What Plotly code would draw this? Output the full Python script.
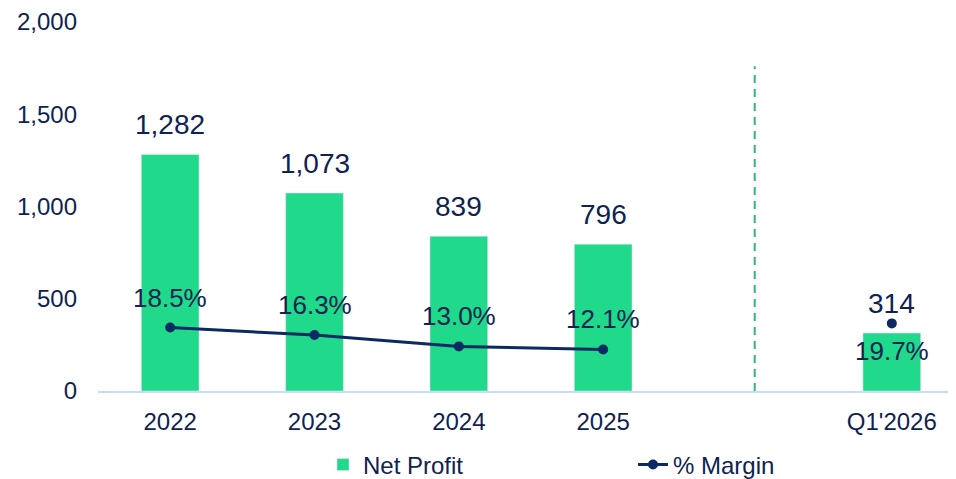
import plotly.graph_objects as go

periods = ["2022", "2023", "2024", "2025", " ", "Q1'2026"]
net_profit = [1282, 1073, 839, 796, None, 314]
margin_pct = [18.5, 16.3, 13.0, 12.1, None, 19.7]
profit_labels = ["1,282", "1,073", "839", "796", "", "314"]
margin_labels = ["18.5%", "16.3%", "13.0%", "12.1%", "", "19.7%"]
y_ticks = [0, 500, 1000, 1500, 2000]

bar_color = "#20d98b"
navy = "#0b2a63"
text_color = "#0f2352"
font_family = "Arial, Liberation Sans, sans-serif"

fig = go.Figure()

fig.add_trace(go.Bar(
    x=periods,
    y=net_profit,
    name="Net Profit",
    marker_color=bar_color,
    width=0.4,
))

# margin line: the first four years are connected, Q1 stands alone
fig.add_trace(go.Scatter(
    x=periods,
    y=margin_pct,
    name="% Margin",
    mode="lines+markers",
    yaxis="y2",
    connectgaps=False,
    line=dict(color=navy, width=3),
    marker=dict(size=10, color=navy),
))

# annotations on a category axis: use the index, "2022" would be read as position 2022
annotations = []
for i, (v, lab) in enumerate(zip(net_profit, profit_labels)):
    if v is None:
        continue
    annotations.append(dict(x=i, y=v, text=lab, showarrow=False, yshift=30,
                            font=dict(size=28, color=text_color)))
for i, (m, lab) in enumerate(zip(margin_pct, margin_labels)):
    if m is None:
        continue
    # the last one sits below its marker so it does not collide with the bar label
    shift = -28 if i == len(periods) - 1 else 30
    annotations.append(dict(x=i, y=m, yref="y2", text=lab, showarrow=False, yshift=shift,
                            font=dict(size=26, color=text_color)))

fig.update_layout(
    width=956,
    height=479,
    # page body adds 8px on the left/top, so margins are trimmed by that much
    margin=dict(l=90, r=0, t=14, b=96),
    plot_bgcolor="white",
    paper_bgcolor="white",
    font=dict(family=font_family, color=text_color, size=24),
    showlegend=True,
    xaxis=dict(
        type="category",
        categoryorder="array",
        categoryarray=periods,
        range=[-0.5, 5.5],
        automargin=False,
        showline=True,
        linecolor="#c6dcf7",
        linewidth=2,
        showgrid=False,
        ticks="",
        ticklabelstandoff=8,
        tickfont=dict(size=24, color=text_color),
    ),
    yaxis=dict(
        range=[0, 2000],
        tickvals=y_ticks,
        tickformat=",d",
        automargin=False,
        ticklabeloverflow="allow",
        showgrid=False,
        zeroline=False,
        showline=False,
        ticks="",
        ticklabelstandoff=20,
        tickfont=dict(size=24, color=text_color),
    ),
    yaxis2=dict(
        overlaying="y",
        side="right",
        range=[0, 107.5],
        visible=False,
        automargin=False,
    ),
    legend=dict(
        orientation="h",
        xref="container",
        yref="container",
        x=0.3295,
        xanchor="left",
        y=0.046,
        yanchor="middle",
        font=dict(size=24, color=text_color),
        entrywidth=265,
        entrywidthmode="pixels",
    ),
    annotations=annotations,
    shapes=[dict(
        type="line", xref="x", yref="y",
        x0=4.05, x1=4.05, y0=0, y1=1760,
        line=dict(color="#2eb87c", width=2, dash="8px,6px"),
    )],
)

fig.write_html("out.html")
